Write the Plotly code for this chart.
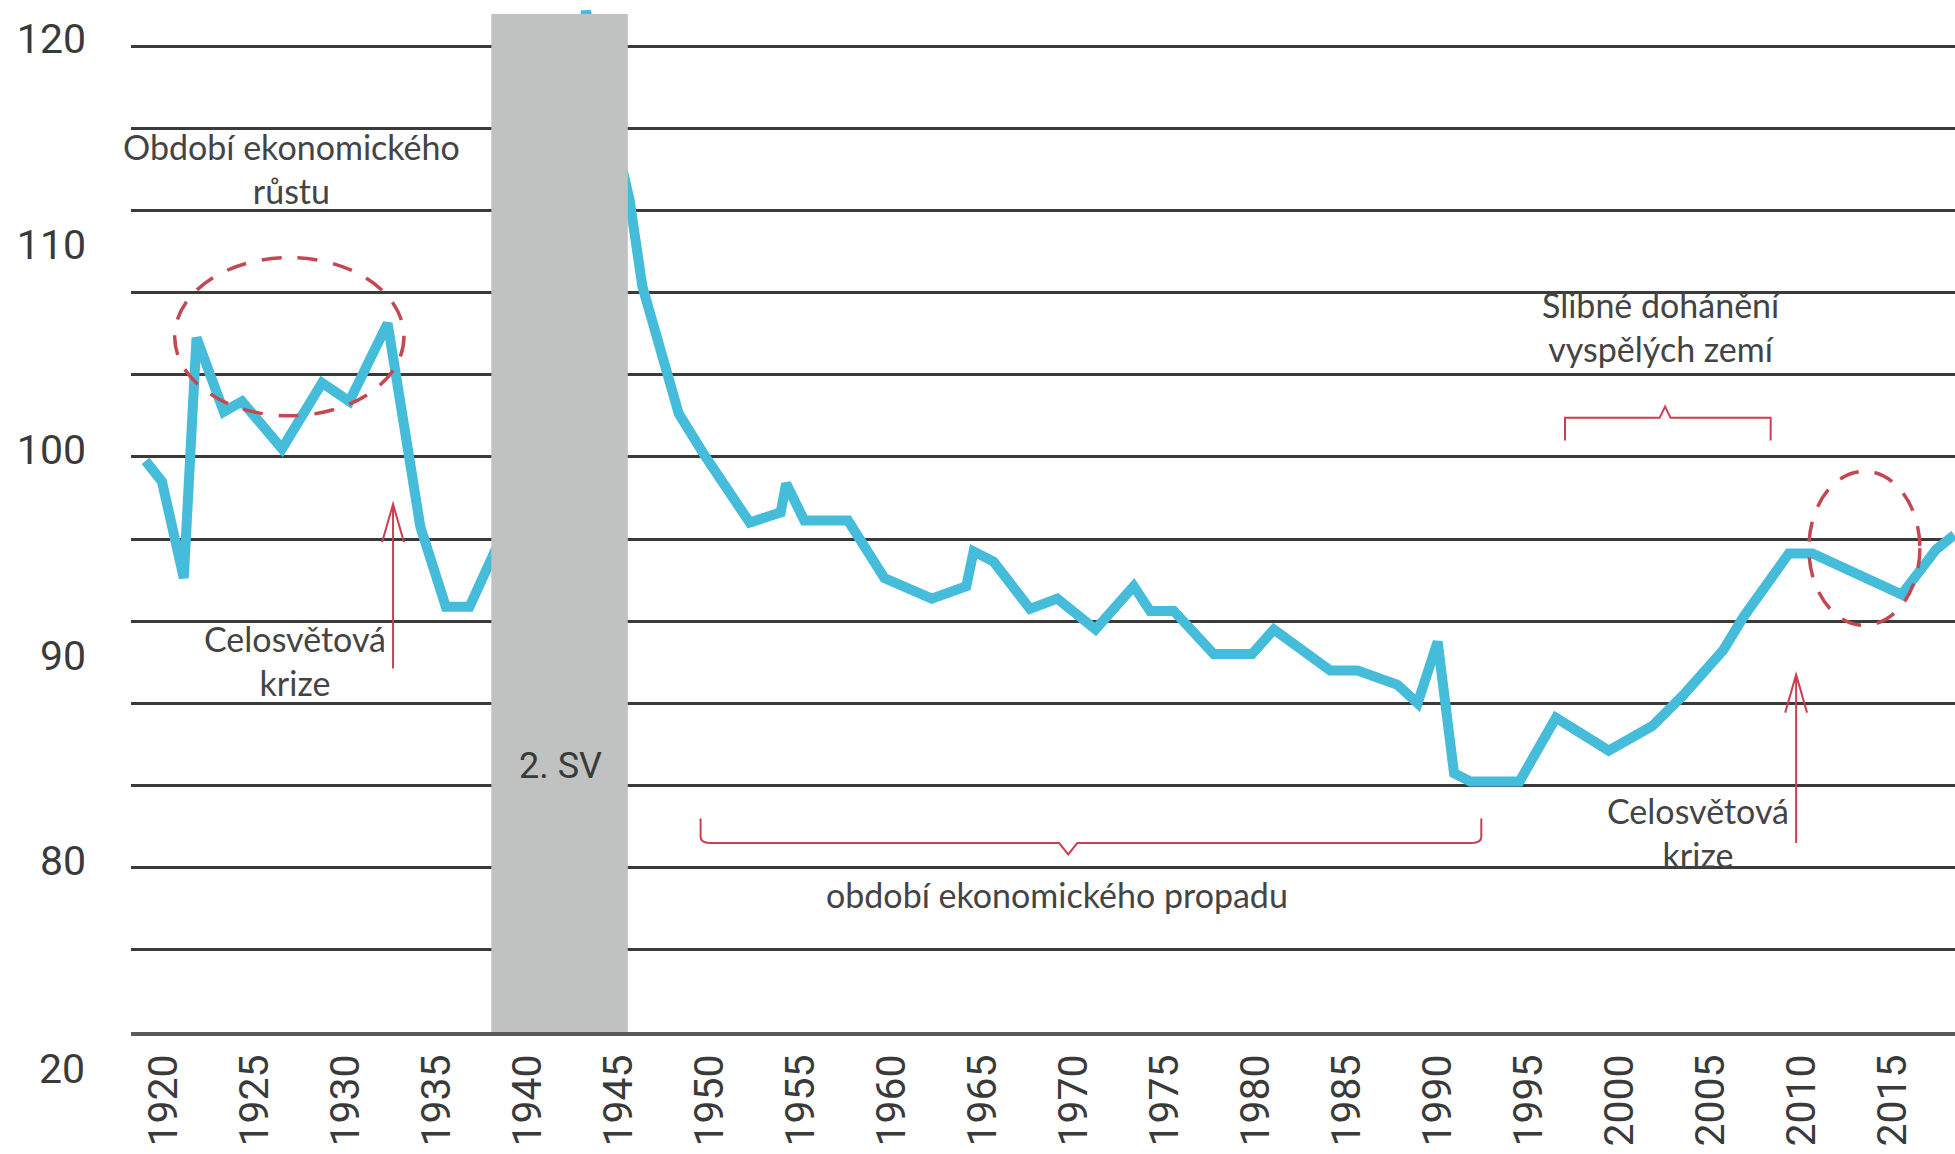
import plotly.graph_objects as go

# ---- data ----
years = [1919.0, 1919.9, 1921.1, 1921.8, 1923.3, 1924.3, 1926.5, 1928.7, 1930.2, 1932.3,
         1934.1, 1935.5, 1936.8, 1937.8, 1938.5, 1943.2, 1945.6, 1946.3, 1947.7, 1948.3,
         1949.7, 1952.2, 1953.9, 1954.2, 1955.2, 1957.6, 1959.6, 1962.2, 1964.1, 1964.5,
         1965.6, 1967.6, 1969.1, 1971.2, 1973.3, 1974.2, 1975.5, 1977.7, 1979.8, 1981.0,
         1984.1, 1985.6, 1987.8, 1988.9, 1990.0, 1990.9, 1991.8, 1994.5, 1996.5, 1999.4,
         2001.8, 2003.5, 2005.7, 2006.8, 2009.3, 2010.6, 2015.5, 2017.4, 2018.4]
values = [99.8, 98.8, 94.1, 105.8, 102.2, 102.7, 100.4, 103.6, 102.7, 106.5,
          96.6, 92.7, 92.7, 94.8, 96.0, 121.7, 112.5, 108.3, 104.2, 102.1,
          100.1, 96.8, 97.3, 98.7, 96.9, 96.9, 94.1, 93.1, 93.7, 95.4,
          94.9, 92.6, 93.1, 91.6, 93.7, 92.5, 92.5, 90.4, 90.4, 91.6,
          89.6, 89.6, 88.9, 88.0, 91.0, 84.6, 84.2, 84.2, 87.3, 85.7,
          86.9, 88.4, 90.6, 92.2, 95.3, 95.3, 93.3, 95.5, 96.2]

x_tick_years = [1920, 1925, 1930, 1935, 1940, 1945, 1950, 1955, 1960, 1965,
                1970, 1975, 1980, 1985, 1990, 1995, 2000, 2005, 2010, 2015]
y_tick_vals = [120, 110, 100, 90, 80]
y_tick_text = ["120", "110", "100", "90", "80"]
y_extra_label_val = 70
y_extra_label_text = "20"

war_period = [1938.0, 1945.5]

X_RANGE = [1918.2, 2018.43]
Y_RANGE = [72, 122]

LINE_BLUE = "rgb(68,188,218)"
RED = "rgb(206,62,82)"
RED_DASH = "rgb(196,72,82)"
TXT = "#444444"
TICK_FONT = dict(family="Roboto, Liberation Sans, sans-serif", size=41, color="#3a3a3a")
ANN_FONT = dict(family="Lato, Open Sans, sans-serif", size=34, color=TXT)

fig = go.Figure()
fig.add_trace(go.Scatter(x=years, y=values, mode="lines",
                         line=dict(color=LINE_BLUE, width=10), showlegend=False,
                         hoverinfo="skip"))

shapes = []
# WWII grey band
shapes.append(dict(type="rect", xref="x", yref="y", x0=war_period[0], x1=war_period[1],
                   y0=Y_RANGE[0], y1=121.56, fillcolor="rgb(192,193,193)",
                   line=dict(width=0), layer="above"))
# dashed ellipses
shapes.append(dict(type="circle", xref="x", yref="y", x0=1920.6, x1=1933.2, y0=102.0, y1=109.7,
                   line=dict(color=RED_DASH, width=3.5, dash="20px,16px"), layer="above"))
shapes.append(dict(type="circle", xref="x", yref="y", x0=2010.4, x1=2016.5, y0=91.8, y1=99.3,
                   line=dict(color=RED_DASH, width=3.5, dash="20px,16px"), layer="above"))


def arrow_path(x, y_bottom, y_tip, hw=0.6, hh=1.85):
    return (f"M {x},{y_bottom} L {x},{y_tip} "
            f"M {x - hw},{y_tip - hh} L {x},{y_tip} L {x + hw},{y_tip - hh}")


shapes.append(dict(type="path", xref="x", yref="y", path=arrow_path(1932.6, 89.7, 97.7),
                   line=dict(color=RED, width=2), layer="above"))
shapes.append(dict(type="path", xref="x", yref="y", path=arrow_path(2009.7, 81.2, 89.4),
                   line=dict(color=RED, width=2), layer="above"))

# bottom bracket (notch down)
shapes.append(dict(type="path", xref="x", yref="y",
                   path=("M 1949.5,82.4 L 1949.5,81.5 Q 1949.5,81.2 1950.0,81.2 "
                         "L 1969.2,81.2 L 1969.7,80.65 L 1970.2,81.2 L 1991.9,81.2 "
                         "Q 1992.4,81.2 1992.4,81.5 L 1992.4,82.4"),
                   line=dict(color=RED, width=2), layer="above"))
# top bracket (notch up)
shapes.append(dict(type="path", xref="x", yref="y",
                   path=("M 1997.0,100.8 L 1997.0,101.9 L 2002.2,101.9 L 2002.5,102.45 "
                         "L 2002.8,101.9 L 2008.3,101.9 L 2008.3,100.8"),
                   line=dict(color=RED, width=2), layer="above"))

annotations = [
    dict(x=1927.0, y=114.05, text="Období ekonomického<br>růstu"),
    dict(x=1927.2, y=90.07, text="Celosvětová<br>krize"),
    dict(x=1969.1, y=78.7, text="období ekonomického propadu"),
    dict(x=2002.3, y=106.34, text="Slibné dohánění<br>vyspělých zemí"),
    dict(x=2004.3, y=81.7, text="Celosvětová<br>krize"),
]
for a in annotations:
    a.update(xref="x", yref="y", showarrow=False, xanchor="center", yanchor="middle",
             font=ANN_FONT)
annotations.append(dict(x=1941.8, y=84.96, xref="x", yref="y", text="2. SV", showarrow=False,
                        xanchor="center", yanchor="middle",
                        font=dict(family="Roboto, sans-serif", size=36, color="#3a3a3a")))
# mislabeled bottom y tick label ("20") placed below the axis bottom
annotations.append(dict(x=0, xref="paper",
                        y=(y_extra_label_val - Y_RANGE[0]) / (Y_RANGE[1] - Y_RANGE[0]),
                        yref="paper", text=y_extra_label_text, showarrow=False,
                        xanchor="right", yanchor="middle", xshift=-44, yshift=4,
                        font=TICK_FONT))

fig.update_layout(
    width=1955, height=1154,
    margin=dict(l=131, r=0, t=5, b=122, autoexpand=False),
    paper_bgcolor="white", plot_bgcolor="white",
    shapes=shapes, annotations=annotations, showlegend=False,
    xaxis=dict(range=X_RANGE, tickmode="array", tickvals=x_tick_years,
               ticktext=[str(y) for y in x_tick_years], tickangle=-90,
               showgrid=False, zeroline=False, showline=True, linecolor="#5a5a5a",
               linewidth=4, ticks="", tickfont=TICK_FONT, ticklabelstandoff=2,
               automargin=False),
    yaxis=dict(range=Y_RANGE, tickmode="array", tickvals=y_tick_vals, ticktext=y_tick_text,
               showgrid=False, zeroline=False, showline=False, ticks="",
               tickfont=TICK_FONT, ticklabelstandoff=44, ticklabelshift=-7,
               automargin=False,
               minor=dict(tick0=72, dtick=4, showgrid=True, gridcolor="#3a3a3a",
                          gridwidth=3, ticks="")),
)

fig.write_html("out.html",
               config={"displayModeBar": False},
               post_script="document.body.style.margin='0';"
                           "document.body.style.overflow='hidden';")
